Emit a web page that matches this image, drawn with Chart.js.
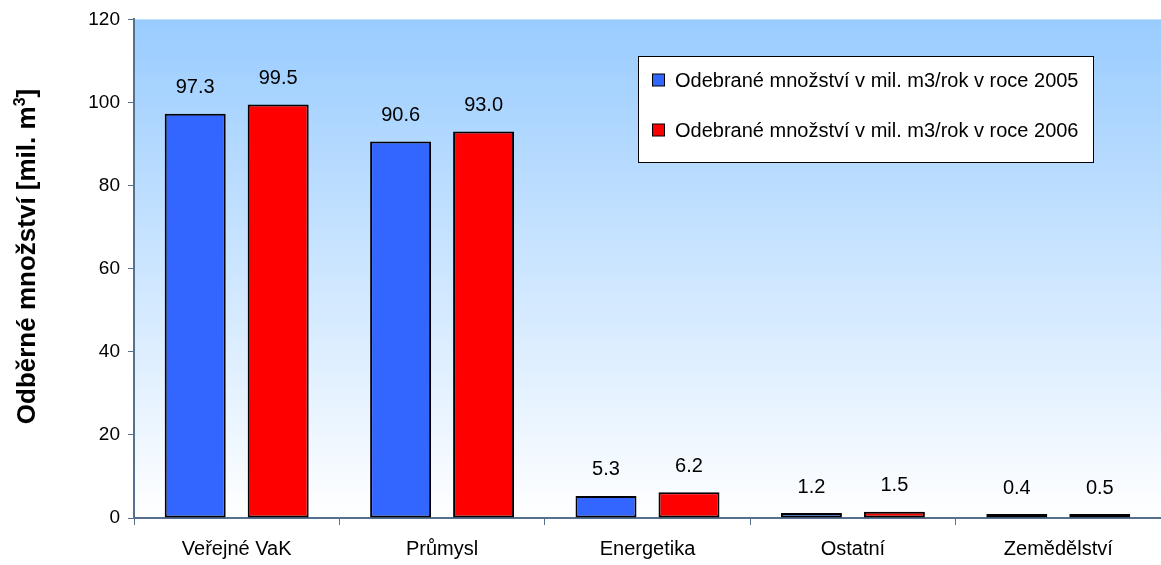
<!DOCTYPE html>
<html lang="cs">
<head>
<meta charset="utf-8">
<title>Odběrné množství</title>
<script src="https://cdn.jsdelivr.net/npm/chart.js@4.4.1/dist/chart.umd.min.js"></script>
<style>
  html, body { margin: 0; padding: 0; background: #ffffff; }
  #chart { display: block; }
</style>
</head>
<body>
<canvas id="chart" width="1161" height="565"></canvas>
<script>
// Categories of water users and withdrawn volumes (mil. m3/year)
const categories = ['Veřejné VaK', 'Průmysl', 'Energetika', 'Ostatní', 'Zemědělství'];
const values2005 = [97.3, 90.6, 5.3, 1.2, 0.4];
const values2006 = [99.5, 93.0, 6.2, 1.5, 0.5];
const seriesLabels = [
  'Odebrané množství v mil. m3/rok v roce 2005',
  'Odebrané množství v mil. m3/rok v roce 2006'
];
const yMin = 0;
const yMax = 120;
const yStep = 20;
const yTitleMain = 'Odběrné množství [mil. m';
const yTitleSup = '3';
const yTitleEnd = ']';

const FONT = '"Liberation Sans", Arial, Helvetica, sans-serif';
const AXIS_COLOR = '#56708f';

// Sky-blue gradient behind the plot area
const plotBackground = {
  id: 'plotBackground',
  beforeDraw(chart) {
    const { ctx, chartArea: a } = chart;
    const g = ctx.createLinearGradient(0, a.top, 0, a.bottom);
    g.addColorStop(0, '#99ccff');
    g.addColorStop(1, '#ffffff');
    ctx.save();
    ctx.fillStyle = g;
    ctx.fillRect(a.left, a.top, a.right - a.left, a.bottom - a.top);
    ctx.restore();
  }
};

// Value labels above each bar
const valueLabels = {
  id: 'valueLabels',
  afterDatasetsDraw(chart) {
    const { ctx } = chart;
    ctx.save();
    ctx.font = '20px ' + FONT;
    ctx.fillStyle = '#000000';
    ctx.textAlign = 'center';
    ctx.textBaseline = 'middle';
    chart.data.datasets.forEach((ds, di) => {
      const meta = chart.getDatasetMeta(di);
      meta.data.forEach((bar, i) => {
        ctx.fillText(ds.data[i].toFixed(1), bar.x, bar.y - 26);
      });
    });
    ctx.restore();
  }
};

// Boxed legend in the upper right of the plot
const boxLegend = {
  id: 'boxLegend',
  afterDraw(chart) {
    const { ctx } = chart;
    const box = { x: 638.5, y: 56.5, w: 455, h: 106 };
    ctx.save();
    ctx.fillStyle = '#ffffff';
    ctx.fillRect(box.x, box.y, box.w, box.h);
    ctx.strokeStyle = '#000000';
    ctx.lineWidth = 1;
    ctx.strokeRect(box.x, box.y, box.w, box.h);
    ctx.font = '20px ' + FONT;
    ctx.textAlign = 'left';
    ctx.textBaseline = 'middle';
    chart.data.datasets.forEach((ds, i) => {
      const cy = 80 + i * 50;
      ctx.fillStyle = ds.backgroundColor;
      ctx.fillRect(652.5, cy - 6, 12, 12);
      ctx.strokeStyle = '#000000';
      ctx.lineWidth = 1;
      ctx.strokeRect(652.5, cy - 6, 12, 12);
      ctx.fillStyle = '#000000';
      ctx.fillText(ds.label, 675, cy + 1);
    });
    ctx.restore();
  }
};

// Rotated y-axis title with superscript exponent
const yTitle = {
  id: 'yTitle',
  afterDraw(chart) {
    const { ctx } = chart;
    const mainFont = 'bold 26px ' + FONT;
    const supFont = 'bold 16px ' + FONT;
    ctx.save();
    ctx.font = mainFont;
    const w1 = ctx.measureText(yTitleMain).width;
    const w3 = ctx.measureText(yTitleEnd).width;
    ctx.font = supFont;
    const w2 = ctx.measureText(yTitleSup).width;
    const total = w1 + w2 + w3;
    ctx.translate(35, 256.5);
    ctx.rotate(-Math.PI / 2);
    ctx.fillStyle = '#000000';
    ctx.textBaseline = 'alphabetic';
    ctx.textAlign = 'left';
    let x = -total / 2;
    ctx.font = mainFont;
    ctx.fillText(yTitleMain, x, 0);
    x += w1;
    ctx.font = supFont;
    ctx.fillText(yTitleSup, x, -10);
    x += w2;
    ctx.font = mainFont;
    ctx.fillText(yTitleEnd, x, 0);
    ctx.restore();
  }
};

new Chart(document.getElementById('chart'), {
  type: 'bar',
  data: {
    labels: categories,
    datasets: [
      {
        label: seriesLabels[0],
        data: values2005,
        backgroundColor: '#3366ff',
        borderColor: '#000000',
        borderWidth: 2,
        borderSkipped: false,
        minBarLength: 4,
        categoryPercentage: 0.808,
        barPercentage: 0.735
      },
      {
        label: seriesLabels[1],
        data: values2006,
        backgroundColor: '#ff0000',
        borderColor: '#000000',
        borderWidth: 2,
        borderSkipped: false,
        minBarLength: 4,
        categoryPercentage: 0.808,
        barPercentage: 0.735
      }
    ]
  },
  options: {
    responsive: false,
    animation: false,
    devicePixelRatio: 1,
    layout: { padding: { left: 0, top: 17, right: 0, bottom: 0 } },
    plugins: {
      legend: { display: false },
      tooltip: { enabled: false }
    },
    scales: {
      x: {
        offset: true,
        grid: {
          offset: true,
          drawOnChartArea: false,
          drawTicks: true,
          tickLength: 7,
          color: AXIS_COLOR,
          lineWidth: 1
        },
        border: { display: true, color: AXIS_COLOR, width: 2 },
        ticks: {
          color: '#000000',
          font: { family: FONT, size: 20 },
          padding: 12,
          maxRotation: 0
        },
        afterFit(scale) { scale.height = 47; }
      },
      y: {
        min: yMin,
        max: yMax,
        ticks: {
          stepSize: yStep,
          color: '#000000',
          font: { family: FONT, size: 19 },
          padding: 8
        },
        grid: {
          drawOnChartArea: false,
          drawTicks: true,
          tickLength: 6,
          color: AXIS_COLOR,
          lineWidth: 1
        },
        border: { display: true, color: AXIS_COLOR, width: 2 },
        afterFit(scale) { scale.width = 134; }
      }
    }
  },
  plugins: [plotBackground, valueLabels, boxLegend, yTitle]
});
</script>
</body>
</html>
